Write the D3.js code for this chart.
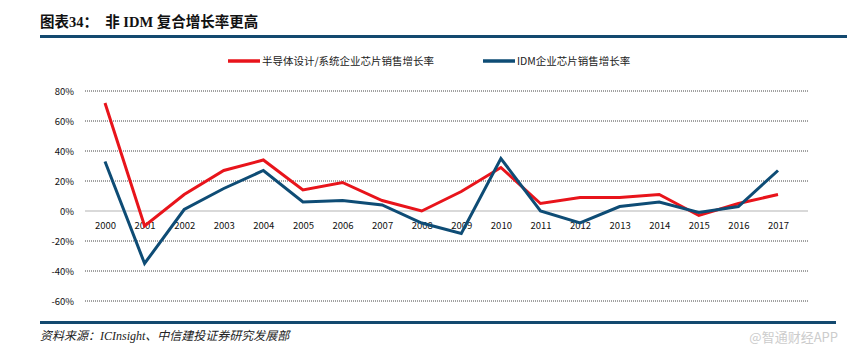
<!DOCTYPE html>
<html><head><meta charset="utf-8">
<script src="https://cdn.jsdelivr.net/npm/d3@7"></script>
<style>body{margin:0;background:#fff;}svg{display:block;}</style>
</head><body><svg id="c" width="847" height="357"></svg>
<script>
const years = ["2000","2001","2002","2003","2004","2005","2006","2007","2008","2009","2010","2011","2012","2013","2014","2015","2016","2017"];
const designGrowth = [72,-10,11,27,34,14,19,7,0,13,29,5,9,9,11,-3,5,11];
const idmGrowth = [33,-35,1,15,27,6,7,4,-8,-15,35,0,-8,3,6,-1,3,27];
const yTicks = [-60,-40,-20,0,20,40,60,80];
const seriesNames = ["半导体设计/系统企业芯片销售增长率","IDM企业芯片销售增长率"];
const seriesColors = ["#e8141b","#0e4c75"];

const svg = d3.select("#c");
const font = "'Noto Sans CJK SC','Noto Sans',sans-serif";
const mixFont = "'Liberation Serif','Noto Sans CJK SC',serif";
// title
svg.append("text").attr("x",40).attr("y",27).attr("font-family",mixFont)
  .attr("font-weight","bold").attr("font-size",14.5).attr("fill","#111").attr("xml:space","preserve")
  .text("图表34：  非 IDM 复合增长率更高");
svg.append("rect").attr("x",40).attr("y",35).attr("width",807).attr("height",3).attr("fill","#13496f");

const x = d3.scalePoint().domain(years).range([105,778]);
const y = d3.scaleLinear().domain([-60,80]).range([301,91]);
const x0 = 85, x1 = 808;

// grid
yTicks.forEach(t=>{
  if(t===0){
    svg.append("line").attr("x1",x0).attr("x2",x1).attr("y1",y(t)).attr("y2",y(t)).attr("stroke","#d9d9d9").attr("stroke-width",2);
  } else {
    svg.append("line").attr("x1",x0).attr("x2",x1).attr("y1",y(t)).attr("y2",y(t)).attr("stroke","#444").attr("stroke-width",1).attr("stroke-dasharray","1,1");
  }
});
const yAxis = d3.axisLeft(y).tickValues(yTicks).tickFormat(d=>d+"%").tickSize(0).tickPadding(0);
const ya = svg.append("g").attr("transform","translate(74,0)").call(yAxis);
ya.select(".domain").remove();
ya.selectAll("text").attr("font-family",font).attr("font-size",9.5).attr("fill","#111");

const xAxis = d3.axisBottom(x).tickSize(0).tickPadding(0);
const xa = svg.append("g").attr("transform",`translate(0,${y(0)+11})`).call(xAxis);
xa.select(".domain").remove();
xa.selectAll("text").attr("font-family",font).attr("font-size",9.5).attr("fill","#111");

const line = d3.line().x((d,i)=>x(years[i])).y(d=>y(d));
[designGrowth, idmGrowth].forEach((s,k)=>{
  svg.append("path").datum(s).attr("d",line).attr("fill","none").attr("stroke",seriesColors[k]).attr("stroke-width",3).attr("stroke-linejoin","miter");
});

// legend
const legX = [228,483];
seriesNames.forEach((n,k)=>{
  svg.append("line").attr("x1",legX[k]).attr("x2",legX[k]+32).attr("y1",61).attr("y2",61).attr("stroke",seriesColors[k]).attr("stroke-width",3.5);
  svg.append("text").attr("x",legX[k]+34).attr("y",65).attr("font-family",font).attr("font-size",10.5).attr("fill","#222").text(n);
});

// footer
svg.append("rect").attr("x",40).attr("y",321).attr("width",796).attr("height",3).attr("fill","#13496f");
svg.append("text").attr("x",40).attr("y",340).attr("font-family",mixFont).attr("font-style","italic").attr("font-size",12).attr("fill","#222").text("资料来源：ICInsight、中信建投证券研究发展部");
svg.append("text").attr("x",838).attr("y",342).attr("text-anchor","end").attr("font-family",font).attr("font-size",13).attr("fill","#ccc").text("@智通财经APP");
</script></body></html>
